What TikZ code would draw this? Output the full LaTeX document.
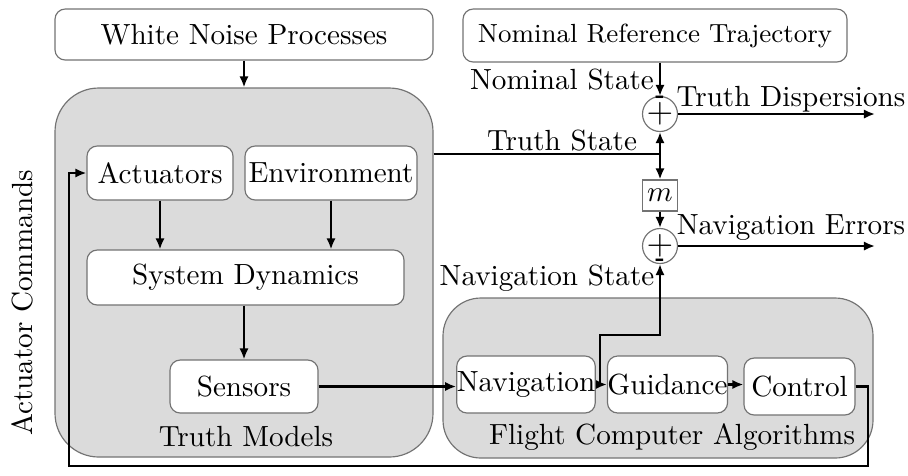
\documentclass[tikz,border=0pt]{standalone}
\usetikzlibrary{arrows.meta,calc}
\newcommand\pxu{0.343pt}
\tikzset{
  x=0.343pt, y=-0.343pt,
  blockbox/.style={draw=black!55, fill=white, rounded corners=3.5pt, inner sep=0pt, align=center},
  groupbox/.style={draw=black!55, fill=black!14, inner sep=0pt},
  sumnode/.style={draw=black!55, circle, fill=white, minimum size=34*\pxu, inner sep=0pt, font=\large},
  signmark/.style={inner sep=0pt, font=\bfseries\footnotesize},
  sig/.style={line width=0.95pt, -{Latex[length=3.8pt,width=3.2pt]}},
  wire/.style={line width=0.95pt},
  lbl/.style={inner sep=0pt},
}
\begin{document}
\begin{tikzpicture}
\useasboundingbox (0,0) rectangle (908,475);

% group backgrounds
\node[groupbox, rounded corners=15pt, minimum width=378*\pxu, minimum height=369*\pxu] (tm) at (244,272.5) {};
\node[groupbox, rounded corners=13pt, minimum width=430*\pxu, minimum height=160*\pxu] (fca) at (658,378) {};

% top sources
\node[blockbox, minimum width=378*\pxu, minimum height=51*\pxu] (wn) at (244,34.5) {White Noise Processes};
\node[blockbox, minimum width=384*\pxu, minimum height=53*\pxu, font=\small] (nrt) at (655,35.5) {Nominal Reference Trajectory};

% truth models
\node[blockbox, minimum width=146*\pxu, minimum height=54*\pxu] (act) at (160,173) {Actuators};
\node[blockbox, minimum width=172*\pxu, minimum height=54*\pxu] (env) at (331,173) {Environment};
\node[blockbox, minimum width=317*\pxu, minimum height=55*\pxu] (sd) at (245.5,277.5) {System Dynamics};
\node[blockbox, minimum width=148*\pxu, minimum height=53*\pxu] (sen) at (244,386.5) {Sensors};
\node[lbl] (tmlbl) at (246,437) {Truth Models};

% flight computer
\node[blockbox, minimum width=138*\pxu, minimum height=57*\pxu] (nav) at (526,384.5) {Navigation};
\node[blockbox, minimum width=117*\pxu, minimum height=57*\pxu] (gui) at (667.5,384.5) {Guidance};
\node[blockbox, minimum width=111*\pxu, minimum height=57*\pxu] (ctl) at (799.5,386.5) {Control};
\node[lbl] (fcalbl) at (672,437) {Flight Computer Algorithms};

% summing junctions and mapping
\node[sumnode] (sum1) at (660,114) {$+$};
\node[signmark] (sum1s) at (660,99) {-};
\node[draw=black!55, fill=white, minimum width=35*\pxu, minimum height=31*\pxu, inner sep=0pt] (m) at (660,195.5) {$m$};
\node[sumnode] (sum2) at (660,246) {$+$};
\node[signmark] (sum2s) at (660,262) {-};

% signal labels
\node[lbl] (nslbl) at (562,80) {Nominal State};
\node[lbl] (tslbl) at (562,141) {Truth State};
\node[lbl] (tdlbl) at (791,99) {Truth Dispersions};
\node[lbl] (nelbl) at (791,228) {Navigation Errors};
\node[lbl] (nvlbl) at (547,278) {Navigation State};
\node[lbl, rotate=90] (aclbl) at (22,303) {Actuator Commands};

% internal truth-model flow
\draw[sig] (wn) -- (tm.north);
\draw[sig] (act) -- (act |- sd.north);
\draw[sig] (env) -- (env |- sd.north);
\draw[sig] (sd.south -| sen) -- (sen);
\draw[sig] (sen.east) -- (nav.west |- sen.east);

% flight computer chain
\draw[sig] (nav) -- (gui);
\draw[sig] (gui) -- (ctl.west |- gui);

% truth state branch
\coordinate (ts) at (660,154);
\draw[wire] (tm.east |- ts) -- (ts);
\draw[sig] (ts) -- (sum1);
\draw[sig] (ts) -- (m);
\draw[sig] (nrt.south -| sum1) -- (sum1);
\draw[sig] (sum1.east) -- (875,114) coordinate (tdend);
\draw[sig] (m) -- (sum2);
\draw[sig] (sum2.east) -- (875,246) coordinate (neend);

% navigation state branch
\coordinate (nsk) at (600,335);
\draw[sig] (nsk |- nav.east) -- (nsk) -| (sum2.south);

% actuator command feedback
\coordinate (fbr) at (868,466);
\coordinate (fbl) at (69,466);
\draw[sig] (ctl.east) -| (fbr) -- (fbl) |- (act.west);
\end{tikzpicture}
\end{document}
